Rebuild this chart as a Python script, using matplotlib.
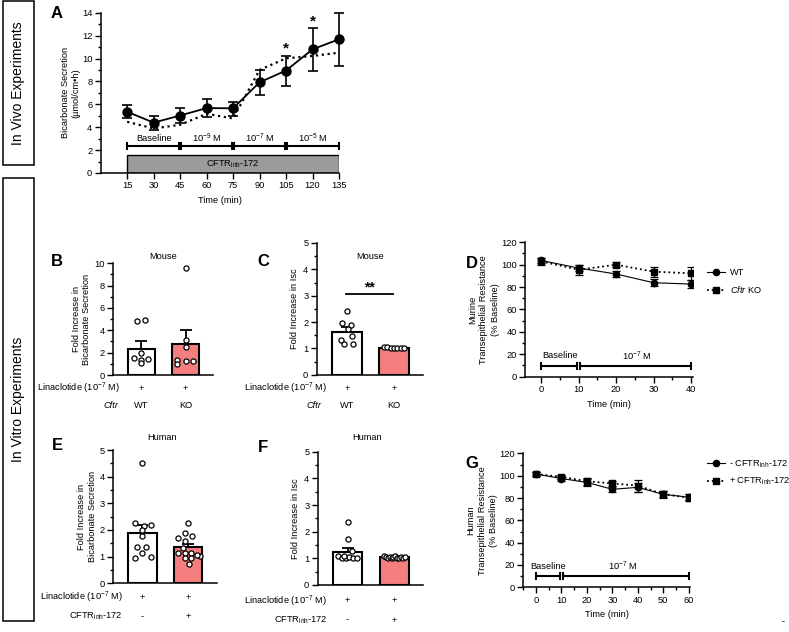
import matplotlib
matplotlib.use("Agg")
import matplotlib.pyplot as plt
import matplotlib.transforms as mtransforms
from matplotlib.patches import Rectangle
from matplotlib.lines import Line2D
from matplotlib.ticker import MultipleLocator

plt.rcParams['font.family'] = ['Liberation Sans', 'DejaVu Sans']
plt.rcParams['mathtext.fontset'] = 'custom'
plt.rcParams['mathtext.rm'] = 'Liberation Sans'
plt.rcParams['mathtext.it'] = 'Liberation Sans:italic'
plt.rcParams['mathtext.default'] = 'regular'
FS = 6.7
plt.rcParams['font.size'] = FS

# ---- data ----
# A: in vivo bicarbonate secretion
time_a = [15, 30, 45, 60, 75, 90, 105, 120, 135]
a_mean = [5.35, 4.4, 5.02, 5.67, 5.65, 7.92, 8.95, 10.8, 11.68]
a_lo = [4.79, 3.78, 4.36, 4.88, 5.02, 6.8, 7.61, 8.95, 9.35]
a_hi = [5.92, 5.0, 5.66, 6.48, 6.24, 9.0, 10.22, 12.66, 13.94]
a_dotted = [4.47, 3.89, 4.21, 5.17, 4.76, 9.0, 10.02, 10.22, 10.51]
a_star_time = [105, 120]
a_star_y = [10.9, 13.2]
a_periods = [15, 45, 75, 105, 135]
a_period_labels = ["Baseline", "10$^{-9}$ M", "10$^{-7}$ M", "10$^{-5}$ M"]

# B: mouse bicarbonate
b_mean = [2.3, 2.78]
b_sem = [0.71, 1.22]
b_wt = [4.85, 4.9, 2.0, 1.55, 1.4, 1.3, 1.05]
b_ko = [9.6, 3.15, 2.55, 1.32, 1.02, 1.25, 1.25]

# C: mouse Isc
c_mean = [1.62, 1.03]
c_sem = [0.18, 0.02]
c_wt = [2.43, 1.95, 1.88, 1.72, 1.48, 1.3, 1.18, 1.15]
c_ko = [1.06, 1.04, 1.03, 1.02, 1.0, 1.01, 1.03]

# D: murine TER
time_d = [0, 10, 20, 30, 40]
d_wt = [103.8, 97, 91.7, 83.9, 82.7]
d_wt_err = [2.5, 3, 2.5, 3, 3.5]
d_ko = [103, 95.5, 100, 93.8, 92.3]
d_ko_err = [3, 4.5, 2.5, 4.5, 6]

# E: human bicarbonate
e_mean = [1.87, 1.35]
e_sem = [0.32, 0.14]
e_veh = [4.5, 2.27, 2.15, 2.17, 2.0, 1.79, 1.35, 1.37, 0.96, 1.12, 1.0]
e_inh = [2.27, 1.9, 1.69, 1.77, 1.6, 1.31, 1.12, 1.12, 1.15, 1.02, 0.94, 0.94, 0.71, 1.05]

# F: human Isc
f_mean = [1.25, 1.04]
f_sem = [0.14, 0.02]
f_veh = [2.35, 1.72, 1.29, 1.08, 1.02, 1.0, 1.05, 1.0, 1.03, 1.1]
f_inh = [1.08, 1.05, 1.03, 1.06, 1.02, 1.04, 1.07, 1.01, 1.03, 1.05, 1.02, 1.06]

# G: human TER
time_g = [0, 10, 20, 30, 40, 50, 60]
g_minus = [101.5, 97.5, 94, 87.8, 89.6, 83.3, 80.8]
g_minus_err = [2, 2, 3, 2.5, 4, 3, 2.5]
g_plus = [101.5, 99, 95, 93.1, 91.1, 83.5, 80.3]
g_plus_err = [2, 2, 3, 2.5, 5.5, 3, 3]

# jitter for the dots (layout only)
b_wt_off = [-0.09, 0.08, 0, -0.16, 0.15, 0, 0]
b_ko_off = [0, 0, 0, -0.19, -0.19, 0, 0.17]
c_wt_off = [0, -0.1, 0.08, 0.02, 0.1, -0.12, 0.12, -0.06]
c_ko_off = [-0.22, -0.15, -0.07, 0, 0.07, 0.14, 0.22]
e_veh_off = [0, -0.15, 0.04, 0.19, 0, 0, -0.12, 0.09, -0.15, 0, 0.18]
e_inh_off = [0, -0.06, -0.23, 0.09, -0.06, -0.12, -0.23, -0.08, 0.07, 0.25, -0.08, 0.07, 0.02, 0.2]
f_veh_off = [0, 0, 0.1, -0.2, -0.12, -0.04, 0.04, 0.12, 0.2, -0.08]
f_inh_off = [-0.22, -0.18, -0.14, -0.1, -0.06, -0.02, 0.02, 0.06, 0.1, 0.14, 0.18, 0.22]

W, H = 789, 632
fig = plt.figure(figsize=(W / 100, H / 100), dpi=100)


def fx(px):
    return px / W


def fy(py):
    return 1 - py / H


def add_ax(left, right, top, bottom):
    ax = fig.add_axes([fx(left), fy(bottom), (right - left) / W, (bottom - top) / H])
    for s in ['top', 'right']:
        ax.spines[s].set_visible(False)
    for s in ['left', 'bottom']:
        ax.spines[s].set_linewidth(1.1)
    ax.tick_params(which='major', direction='out', length=4, width=1.0, labelsize=FS, pad=2)
    ax.tick_params(which='minor', direction='out', length=2.2, width=1.0)
    return ax


def bracket(ax, segs, y, cap, labels, label_xs, label_y):
    for (x0, x1) in segs:
        ax.plot([x0, x1], [y, y], color='black', lw=1.5, solid_capstyle='butt', clip_on=False)
        ax.plot([x0, x0], [y - cap, y + cap], color='black', lw=1.5, clip_on=False)
        ax.plot([x1, x1], [y - cap, y + cap], color='black', lw=1.5, clip_on=False)
    for lab, lx in zip(labels, label_xs):
        ax.text(lx, label_y, lab, ha='center', va='center', fontsize=FS)


def bar_panel(ax, means, sems, groups, offs, ylim, major, minor):
    colors = ['white', '#F57F7F']
    ax.bar([0, 1], means, width=0.62, color=colors, edgecolor='black', linewidth=1.5, zorder=2)
    ax.errorbar([0, 1], means, yerr=[[0, 0], sems], fmt='none', ecolor='black',
                elinewidth=1.3, capsize=4, capthick=1.3, zorder=3)
    for i, (pts, off) in enumerate(zip(groups, offs)):
        ax.plot([i + o for o in off], pts, 'o', ms=3.7, mfc='white', mec='black', mew=0.9,
                zorder=4, clip_on=False)
    ax.set_xlim(-0.64, 1.62)
    ax.set_ylim(*ylim)
    ax.set_xticks([])
    ax.yaxis.set_major_locator(MultipleLocator(major))
    ax.yaxis.set_minor_locator(MultipleLocator(minor))


def under_labels(ax, rows):
    # rows: (label, y_px, right_px, italic, [per-bar texts])
    tr = mtransforms.blended_transform_factory(ax.transData, fig.transFigure)
    for lab, ypx, rpx, it, cells in rows:
        fig.text(fx(rpx), fy(ypx), lab, ha='right', va='center', fontsize=FS,
                 style='italic' if it else 'normal')
        for i, c in enumerate(cells):
            ax.text(i, fy(ypx), c, transform=tr, ha='center', va='center', fontsize=FS)


def letter(x, y, s):
    fig.text(fx(x), fy(y), s, fontsize=12, fontweight='bold', ha='center', va='center')


# ---- left boxes ----
for (top, bot, lab) in [(1, 165, "In Vivo Experiments"), (178, 621, "In Vitro Experiments")]:
    fig.add_artist(Rectangle((fx(3), fy(bot)), fx(31), (bot - top) / H, transform=fig.transFigure,
                             facecolor='none', edgecolor='black', lw=1.1))
    fig.text(fx(18), fy((top + bot) / 2), lab, rotation=90, ha='center', va='center', fontsize=10)

# ---- panel A ----
ax = add_ax(100.7, 339, 12.7, 173)
ax.set_xlim(0, 135)
ax.set_ylim(0, 14)
ax.set_xticks(time_a)
ax.yaxis.set_major_locator(MultipleLocator(2))
ax.yaxis.set_minor_locator(MultipleLocator(1))
ax.plot(time_a, a_dotted, color='black', ls=':', lw=1.6)
ax.errorbar(time_a, a_mean, yerr=[[m - l for m, l in zip(a_mean, a_lo)], [h - m for h, m in zip(a_hi, a_mean)]],
            fmt='-o', color='black', ms=6.5, lw=1.3, elinewidth=1.2, capsize=3.5, capthick=1.2, clip_on=False)
for t, y in zip(a_star_time, a_star_y):
    ax.text(t, y, '*', ha='center', va='center', fontsize=11, fontweight='bold')
segs = [(a_periods[i] + (0.6 if i > 0 else 0), a_periods[i + 1] - (0.6 if i < 3 else 0)) for i in range(4)]
mids = [(a_periods[i] + a_periods[i + 1]) / 2 for i in range(4)]
bracket(ax, segs, 2.35, 0.27, a_period_labels, mids, 3.05)
ax.add_patch(Rectangle((15, 0), 120, 1.6, facecolor='#9b9b9b', edgecolor='black', lw=1.0))
ax.text(75, 0.8, "CFTR$_{inh}$-172", ha='center', va='center', fontsize=FS)
ax.set_xlabel("Time (min)", fontsize=FS, labelpad=4)
ax.set_ylabel("Bicarbonate Secretion\n(µmol/cm•h)", fontsize=FS, labelpad=1)
letter(57, 13, "A")

# ---- panel B ----
ax = add_ax(113, 213, 263.3, 375)
bar_panel(ax, b_mean, b_sem, [b_wt, b_ko], [b_wt_off, b_ko_off], (0, 10), 2, 1)
ax.set_ylabel("Fold Increase in\nBicarbonate Secretion", fontsize=FS, labelpad=2)
fig.text(fx(163), fy(257), "Mouse", ha='center', va='center', fontsize=FS)
under_labels(ax, [("Linaclotide (10$^{-7}$ M)", 388, 120, False, ["+", "+"]),
                  ("Cftr", 406, 118, True, ["WT", "KO"])])
letter(57, 261, "B")

# ---- panel C ----
ax = add_ax(316.7, 423.3, 243, 374.7)
bar_panel(ax, c_mean, c_sem, [c_wt, c_ko], [c_wt_off, c_ko_off], (0, 5), 1, 0.5)
ax.set_ylabel("Fold Increase in Isc", fontsize=FS, labelpad=3)
fig.text(fx(370), fy(257), "Mouse", ha='center', va='center', fontsize=FS)
ax.plot([-0.02, 0.98], [3.05, 3.05], color='black', lw=1.3)
ax.text(0.48, 3.3, "**", ha='center', va='center', fontsize=10, fontweight='bold')
under_labels(ax, [("Linaclotide (10$^{-7}$ M)", 388, 327, False, ["+", "+"]),
                  ("Cftr", 406, 321, True, ["WT", "KO"])])
letter(263, 261, "C")

# ---- panel D ----
ax = add_ax(525, 693, 242.3, 376.7)
ax.set_xlim(-4.3, 40.5)
ax.set_ylim(0, 120)
ax.xaxis.set_major_locator(MultipleLocator(10))
ax.xaxis.set_minor_locator(MultipleLocator(5))
ax.yaxis.set_major_locator(MultipleLocator(20))
ax.yaxis.set_minor_locator(MultipleLocator(10))
ax.errorbar(time_d, d_wt, yerr=d_wt_err, fmt='-o', color='black', ms=4.5, lw=0.8,
            elinewidth=0.9, capsize=3, capthick=0.9)
ax.errorbar(time_d, d_ko, yerr=d_ko_err, fmt=':s', color='black', ms=4.5, lw=1.3,
            elinewidth=0.9, capsize=3, capthick=0.9)
bracket(ax, [(0, 9.6), (10.4, 40)], 9.5, 3.0, ["Baseline", "10$^{-7}$ M"], [5, 25.5], 18.5)
ax.set_xlabel("Time (min)", fontsize=FS, labelpad=4)
ax.set_ylabel("Murine\nTransepithelial Resistance\n(% Baseline)", fontsize=FS, labelpad=1,
              linespacing=1.3)
h = [Line2D([], [], color='black', marker='o', ms=4.5, lw=0.8),
     Line2D([], [], color='black', marker='s', ms=4.5, lw=1.3, ls=':')]
ax.legend(h, ["WT", "$\\it{Cftr}$ KO"], loc='center left', bbox_to_anchor=(fx(702), fy(281.5)),
          bbox_transform=fig.transFigure, frameon=False, fontsize=FS, handlelength=2.0,
          handletextpad=0.5, labelspacing=0.7, borderpad=0)
letter(472, 263, "D")

# ---- panel E ----
ax = add_ax(113, 216.7, 450, 583.3)
bar_panel(ax, e_mean, e_sem, [e_veh, e_inh], [e_veh_off, e_inh_off], (0, 5), 1, 0.5)
ax.set_ylabel("Fold Increase in\nBicarbonate Secretion", fontsize=FS, labelpad=2)
fig.text(fx(162), fy(437), "Human", ha='center', va='center', fontsize=FS)
under_labels(ax, [("Linaclotide (10$^{-7}$ M)", 597.7, 123, False, ["+", "+"]),
                  ("CFTR$_{inh}$-172", 616.7, 123, False, ["-", "+"])])
letter(57, 445, "E")

# ---- panel F ----
ax = add_ax(317.7, 423.3, 451.7, 585)
bar_panel(ax, f_mean, f_sem, [f_veh, f_inh], [f_veh_off, f_inh_off], (0, 5), 1, 0.5)
ax.set_ylabel("Fold Increase in Isc", fontsize=FS, labelpad=3)
fig.text(fx(367), fy(438), "Human", ha='center', va='center', fontsize=FS)
under_labels(ax, [("Linaclotide (10$^{-7}$ M)", 601, 327, False, ["+", "+"]),
                  ("CFTR$_{inh}$-172", 620, 328, False, ["-", "+"])])
letter(263, 447, "F")

# ---- panel G ----
ax = add_ax(523.3, 690, 453.4, 587.3)
ax.set_xlim(-5, 60.5)
ax.set_ylim(0, 120)
ax.xaxis.set_major_locator(MultipleLocator(10))
ax.xaxis.set_minor_locator(MultipleLocator(5))
ax.yaxis.set_major_locator(MultipleLocator(20))
ax.yaxis.set_minor_locator(MultipleLocator(10))
ax.errorbar(time_g, g_minus, yerr=g_minus_err, fmt='-o', color='black', ms=4.5, lw=0.8,
            elinewidth=0.9, capsize=3, capthick=0.9)
ax.errorbar(time_g, g_plus, yerr=g_plus_err, fmt=':s', color='black', ms=4.5, lw=1.3,
            elinewidth=0.9, capsize=3, capthick=0.9)
bracket(ax, [(0, 9.5), (10.5, 60)], 10, 3.0, ["Baseline", "10$^{-7}$ M"], [4.7, 34], 18.5)
ax.set_xlabel("Time (min)", fontsize=FS, labelpad=4)
ax.set_ylabel("Human\nTransepithelial Resistance\n(% Baseline)", fontsize=FS, labelpad=1,
              linespacing=1.3)
h = [Line2D([], [], color='black', marker='o', ms=4.5, lw=0.8),
     Line2D([], [], color='black', marker='s', ms=4.5, lw=1.3, ls=':')]
ax.legend(h, ["- CFTR$_{inh}$-172", "+ CFTR$_{inh}$-172"], loc='center left',
          bbox_to_anchor=(fx(702), fy(473)), bbox_transform=fig.transFigure, frameon=False,
          fontsize=FS, handlelength=2.0, handletextpad=0.4, labelspacing=0.6, borderpad=0)
letter(472, 464, "G")

# small dash at the lower right corner of the original figure
fig.text(fx(783), fy(622), "-", ha='center', va='center', fontsize=FS)

fig.savefig("out.png", dpi=100)
